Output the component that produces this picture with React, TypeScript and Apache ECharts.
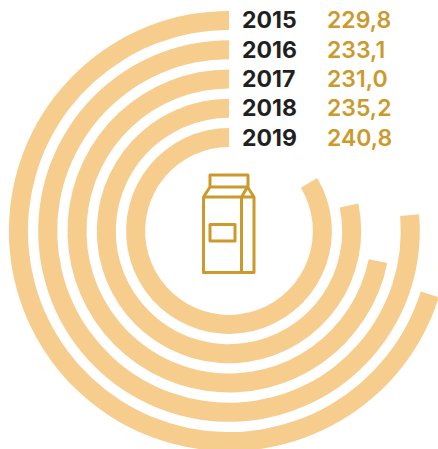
import React, { useEffect, useRef } from "react";
import * as echarts from "echarts";

const years = ["2015", "2016", "2017", "2018", "2019"];
const valueLabels = ["229,8", "233,1", "231,0", "235,2", "240,8"];
// Sweep of each ring in degrees
const sweeps = [252.5, 275, 258.6, 282, 301];

const RING = "#F6CD8D";
const DARK = "#231F20";
const GOLD = "#CC9A2C";

const carton =
  "M203.5 197H241.5V272.5H203.5Z M241.5 197H254V272.5H241.5 M203.5 197L210 187H247.5 M241.5 197L247.5 187L254 197 M210 187V175H248V187 M210 224.5H235V241H210Z";

echarts.graphic.registerShape("cartonIcon", echarts.graphic.extendPath(carton as any, {}) as any);

export default function App() {
  const ref = useRef<HTMLDivElement>(null);
  useEffect(() => {
    document.body.style.margin = "0";
    const chart = echarts.init(ref.current!, undefined, { renderer: "svg" });
    chart.setOption({
      animation: false,
      polar: { center: [229, 231], radius: [78.75, 225.25] },
      angleAxis: { type: "value", min: 0, max: 360, startAngle: 90, clockwise: false, show: false },
      radiusAxis: {
        type: "category",
        data: years,
        inverse: true,
        axisLine: { show: false },
        axisTick: { show: false },
        splitLine: { show: false },
        z: 10,
        axisLabel: {
          show: true,
          interval: 0,
          hideOverlap: false,
          inside: true,
          margin: -13,
          align: "left",
          verticalAlign: "middle",
          formatter: (v: string, i: number) => `{y|${v}}{v|${valueLabels[i]}}`,
          rich: {
            y: { fontFamily: "Inter", fontWeight: 700, fontSize: 23, color: DARK, width: 85 },
            v: { fontFamily: "Inter", fontWeight: 600, fontSize: 23, color: GOLD },
          },
        },
      },
      series: [
        {
          type: "bar",
          coordinateSystem: "polar",
          data: sweeps,
          barWidth: 19,
          itemStyle: { color: RING },
        },
      ],
      graphic: [
        {
          type: "cartonIcon",
          x: 0,
          y: 0,
          style: { fill: "none", stroke: GOLD, lineWidth: 3, lineJoin: "round" },
        },
      ],
    });
    return () => chart.dispose();
  }, []);
  return <div ref={ref} style={{ width: 438, height: 449 }} />;
}
